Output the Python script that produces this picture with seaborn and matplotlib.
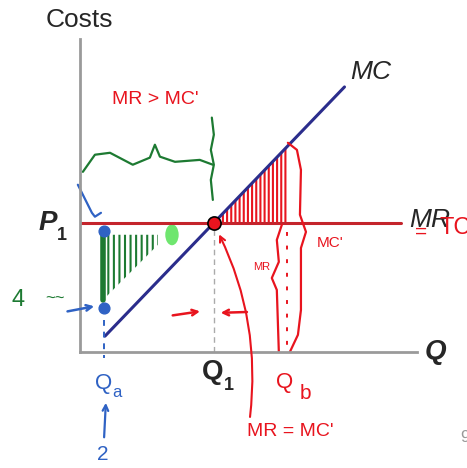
import numpy as np
import pandas as pd
import seaborn as sns
import matplotlib.pyplot as plt
from matplotlib.patches import Ellipse

# Curves (Q on x, costs on y).
mc_q = [0.75, 7.9]
mc_cost = [0.49, 8.21]
mr_q = [0.0, 9.6]
mr_cost = [4.0, 4.0]
q1 = 4.0
p1 = 4.0
qa = 0.72
qb = 6.2

# Hand-drawn marks.
green_q = [0.69, 2.33]
green_top = [3.63, 3.63]
green_bottom = [1.61, 3.32]
blue_dots_cost = [3.75, 1.36]

RED = "#e8141e"
GREEN = "#1d7a32"
BLUE = "#2f62c4"
NAVY = "#2b2d8c"
LINE_RED = "#c4242c"

sns.set_style("white")
plt.rcParams["font.family"] = ["Liberation Sans", "DejaVu Sans"]
plt.rcParams["hatch.linewidth"] = 1.5

fig = plt.figure(figsize=(4.67, 4.68), dpi=100)
ax = fig.add_axes([0.171, 0.248, 0.7216, 0.669])

df_mc = pd.DataFrame({"Q": mc_q, "cost": mc_cost})
df_mr = pd.DataFrame({"Q": mr_q, "cost": mr_cost})
sns.lineplot(data=df_mr, x="Q", y="cost", color=LINE_RED, lw=2.2, ax=ax)
sns.lineplot(data=df_mc, x="Q", y="cost", color=NAVY, lw=2.2, ax=ax)
ax.plot([q1, q1], [0, p1], color="#aaaaaa", lw=1, ls=(0, (4, 3)))

ax.set_xlim(0, 10.06)
ax.set_ylim(0, 9.7)
ax.set_xticks([])
ax.set_yticks([])
ax.set_xlabel("")
ax.set_ylabel("")
for s in ["top", "right"]:
    ax.spines[s].set_visible(False)
for s in ["left", "bottom"]:
    ax.spines[s].set_color("#9a9a9a")
    ax.spines[s].set_linewidth(2)

# axis labels
ax.text(0, 10.29, "Costs", fontsize=19, ha="center", va="center")
ax.text(10.63, 0, "Q", fontsize=20, fontweight="bold", fontstyle="italic", ha="center", va="center")
ax.text(-0.96, p1, "P", fontsize=20, fontweight="bold", fontstyle="italic", ha="center", va="center")
ax.text(-0.54, 3.62, "1", fontsize=13, fontweight="bold", ha="center", va="center")
ax.text(3.97, -0.62, "Q", fontsize=20, fontweight="bold", ha="center", va="center")
ax.text(4.46, -1.04, "1", fontsize=13, fontweight="bold", ha="center", va="center")
ax.text(8.69, 8.68, "MC", fontsize=19, fontstyle="italic", ha="center", va="center")
ax.text(10.45, 4.09, "MR", fontsize=19, fontstyle="italic", ha="center", va="center")
fig.text(0.995, 0.065, "9", fontsize=12, color="#999999", ha="center", va="center")

# red hatched area between MR and MC
qs = np.linspace(q1, qb, 20)
ax.fill_between(qs, p1, np.interp(qs, mc_q, mc_cost), facecolor="none",
                edgecolor=RED, hatch="||||", lw=0)
ax.scatter([q1], [p1], s=90, color=RED, edgecolor="black", lw=1.2, zorder=5)

hand = dict(clip_on=False, lw=1.6, solid_capstyle="round")
# MC' brace
ax.plot([6.21, 6.48, 6.60, 6.57, 6.75, 6.60, 6.60, 6.51, 6.27],
        [6.48, 6.26, 5.64, 4.25, 3.72, 3.22, 1.30, 0.53, 0.0], color=RED, **hand)
# MR brace
ax.plot([6.03, 5.88, 5.94, 5.73, 5.88, 5.94],
        [3.94, 3.47, 2.79, 2.29, 1.92, 0.0], color=RED, **hand)
ax.plot([6.18, 6.18], [3.72, 0], color=RED, lw=1.4, ls=(0, (2, 5)), clip_on=False)
ax.text(5.43, 2.62, "MR", fontsize=8, color=RED, ha="center", va="center")
ax.text(7.46, 3.38, "MC'", fontsize=11, color=RED, ha="center", va="center")
ax.text(6.12, -0.95, "Q", fontsize=16, color=RED, ha="center", va="center")
ax.text(6.72, -1.3, "b", fontsize=15, color=RED, ha="center", va="center")
ax.text(6.27, -2.48, "MR = MC'", fontsize=14, color=RED, ha="center", va="center")
ax.text(2.24, 7.81, "MR > MC'", fontsize=14, color=RED, ha="center", va="center")
ax.text(10.2, 3.7, "=", fontsize=15, color=RED, ha="center", va="center")
ax.text(10.75, 3.85, "TC", fontsize=17, color=RED, ha="left", va="center")
ax.annotate("", xy=(4.12, 3.72), xytext=(5.07, -2.1),
            arrowprops=dict(arrowstyle="->", connectionstyle="arc3,rad=0.15",
                            color=RED, lw=1.5), annotation_clip=False)
ax.annotate("", xy=(3.67, 1.27), xytext=(2.69, 1.12),
            arrowprops=dict(arrowstyle="->", color=RED, lw=1.8))
ax.annotate("", xy=(4.12, 1.21), xytext=(5.07, 1.24),
            arrowprops=dict(arrowstyle="->", color=RED, lw=1.8))

# green brace and hatch
ax.plot([0.09, 0.45, 0.90, 1.58, 2.09, 2.24, 2.39, 2.84, 3.58, 3.97],
        [5.58, 6.11, 6.17, 5.80, 6.02, 6.42, 6.05, 5.89, 5.95, 5.80], color=GREEN, **hand)
ax.plot([3.94, 4.0, 3.91, 4.0, 3.91, 3.97],
        [7.26, 6.73, 6.26, 5.80, 5.33, 4.71], color=GREEN, **hand)
ax.fill_between(green_q, green_top, green_bottom, facecolor="none",
                edgecolor=GREEN, hatch="|||", lw=0)
ax.plot([green_q[0], green_q[0]], [green_bottom[0], 3.72], color=GREEN, lw=4)
ax.add_patch(Ellipse((2.75, 3.63), 0.4, 0.65, facecolor="#4be04b", alpha=0.8, lw=0))
ax.text(-1.85, 1.61, "4", fontsize=17, color=GREEN, ha="center", va="center")
ax.text(-0.75, 1.62, "~~", fontsize=12, color=GREEN, ha="center", va="center")

# blue marks
ax.scatter([qa, qa], blue_dots_cost, s=60, color=BLUE, zorder=5, clip_on=False)
ax.plot([qa, qa], [1.0, -0.2], color=BLUE, lw=1.4, ls=(0, (3, 3)), clip_on=False)
ax.plot([-0.06, 0.36, 0.45, 0.63], [5.18, 4.31, 4.19, 4.31], color=BLUE, **hand)
ax.annotate("", xy=(0.51, 1.43), xytext=(-0.45, 1.24),
            arrowprops=dict(arrowstyle="->", color=BLUE, lw=1.8), annotation_clip=False)
ax.annotate("", xy=(0.78, -1.49), xytext=(0.72, -2.73),
            arrowprops=dict(arrowstyle="->", color=BLUE, lw=1.6), annotation_clip=False)
ax.text(0.72, -0.98, "Q", fontsize=16, color=BLUE, ha="center", va="center")
ax.text(1.1, -1.25, "a", fontsize=12, color=BLUE, ha="center", va="center")
ax.text(0.69, -3.19, "2", fontsize=15, color=BLUE, ha="center", va="center")

plt.savefig("out.png", dpi=100)
